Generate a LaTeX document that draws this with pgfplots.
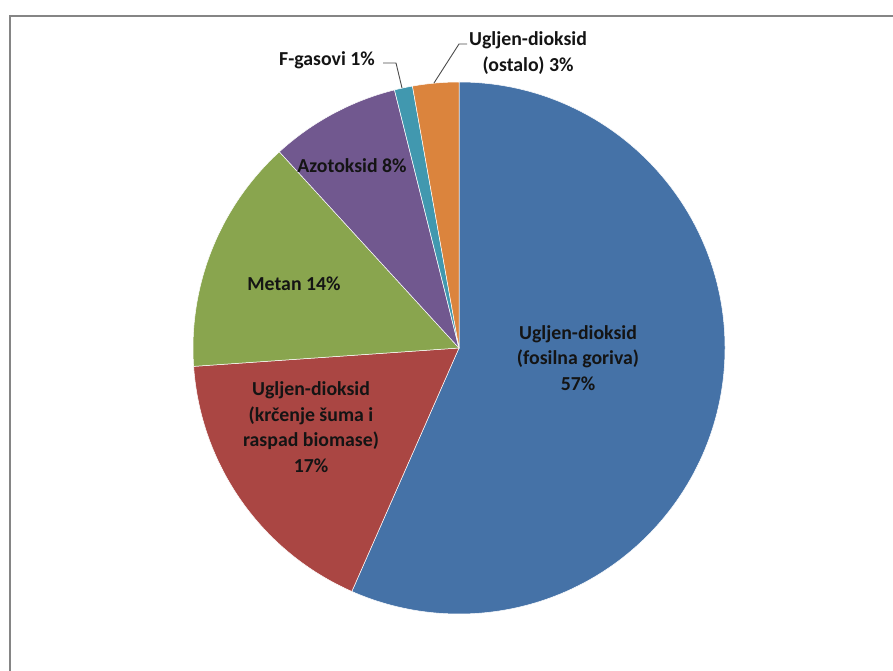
\documentclass[border=0pt]{standalone}
\usepackage{fontspec}
\setmainfont{Carlito}
\usepackage{pgfplots}
\pgfplotsset{compat=1.18}

\definecolor{cA}{HTML}{4572A7}
\definecolor{cB}{HTML}{AA4643}
\definecolor{cC}{HTML}{89A54E}
\definecolor{cD}{HTML}{71588F}
\definecolor{cE}{HTML}{4198AF}
\definecolor{cF}{HTML}{DB843D}

% shares in percent, clockwise from 12 o'clock
\def\vA{56.6}
\def\vB{17.3}
\def\vC{14.3}
\def\vD{7.9}
\def\vE{1.1}
\def\vF{2.8}

\tikzset{lbl/.style={font=\fontsize{19.8}{25.5}\selectfont\bfseries, align=center, text=black!92, inner sep=0pt}}

\begin{document}
\begin{tikzpicture}
\pgfmathsetmacro{\aA}{90}
\pgfmathsetmacro{\aB}{\aA-3.6*\vA}
\pgfmathsetmacro{\aC}{\aB-3.6*\vB}
\pgfmathsetmacro{\aD}{\aC-3.6*\vC}
\pgfmathsetmacro{\aE}{\aD-3.6*\vD}
\pgfmathsetmacro{\aF}{\aE-3.6*\vE}
\pgfmathsetmacro{\aG}{\aF-3.6*\vF}
\begin{axis}[
  at={(0,0)}, anchor=south west,
  width=893pt, height=670pt, scale only axis,
  xmin=0, xmax=893, ymin=0, ymax=670,
  hide axis, clip=false,
]
% frame
\draw[black!48, line width=2pt] (axis cs:10,-5) -- (axis cs:10,654) -- (axis cs:893,654);

% slices
\newcommand{\slice}[3]{%
  \fill[#3, draw=white, line width=0.5pt] (axis cs:459,322) -- ([shift={(#1:266pt)}]axis cs:459,322)
    arc[start angle=#1, end angle=#2, radius=266pt] -- cycle;}
\slice{\aA}{\aB}{cA}
\slice{\aB}{\aC}{cB}
\slice{\aC}{\aD}{cC}
\slice{\aD}{\aE}{cD}
\slice{\aE}{\aF}{cE}
\slice{\aF}{\aG}{cF}

% labels
\node[lbl] at (axis cs:578,312) {Ugljen-dioksid\\(fosilna goriva)\\57\%};
\node[lbl] at (axis cs:311,243) {Ugljen-dioksid\\(krčenje šuma i\\raspad biomase)\\17\%};
\node[lbl] at (axis cs:294,386) {Metan 14\%};
\node[lbl] at (axis cs:352,504) {Azotoksid 8\%};
\node[lbl] at (axis cs:327,610) {F-gasovi 1\%};
\node[lbl] at (axis cs:528,617) {Ugljen-dioksid\\(ostalo) 3\%};

% leader lines
\draw[black!70, line width=0.9pt] (axis cs:383,607) -- (axis cs:396,607) -- (axis cs:402,582);
\draw[black!70, line width=0.9pt] (axis cs:467,626) -- (axis cs:459,626) -- (axis cs:434,587);
\end{axis}
\pgfresetboundingbox
\path (0,0) rectangle (893pt,670pt);
\end{tikzpicture}
\end{document}
